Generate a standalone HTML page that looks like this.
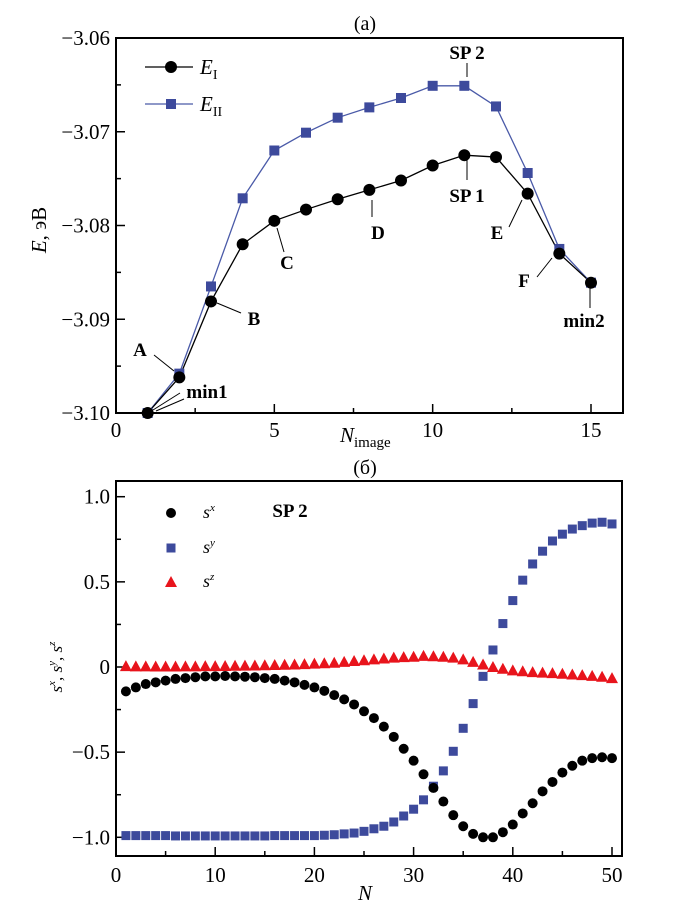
<!DOCTYPE html>
<html><head><meta charset="utf-8"><style>
body{margin:0;background:#fff;}
svg{display:block;font-family:"Liberation Serif",serif;}
</style></head><body>
<svg id="chart" width="680" height="912">
<g id="top"></g>
<g id="bot"></g>
</svg>
<script>
const imgN=[1,2,3,4,5,6,7,8,9,10,11,12,13,14,15];
const eI=[-3.1,-3.0962,-3.0881,-3.0820,-3.0795,-3.0783,-3.0772,-3.0762,-3.0752,-3.0736,-3.0725,-3.0727,-3.0766,-3.0830,-3.0861];
const eII=[-3.1,-3.0958,-3.0865,-3.0771,-3.0720,-3.0701,-3.0685,-3.0674,-3.0664,-3.0651,-3.0651,-3.0673,-3.0744,-3.0825,-3.0861];
const topXTicks=[0,5,10,15];
const topYTicks=[-3.10,-3.09,-3.08,-3.07,-3.06];
const topYLabels=["−3.10","−3.09","−3.08","−3.07","−3.06"];
const spinN=[];for(let i=1;i<=50;i++)spinN.push(i);
const sx=[-0.143,-0.12,-0.10,-0.09,-0.08,-0.07,-0.065,-0.06,-0.055,-0.055,-0.053,-0.055,-0.057,-0.06,-0.065,-0.07,-0.08,-0.09,-0.105,-0.12,-0.14,-0.165,-0.19,-0.22,-0.26,-0.30,-0.35,-0.41,-0.48,-0.55,-0.63,-0.71,-0.79,-0.87,-0.935,-0.98,-1.0,-1.0,-0.97,-0.925,-0.86,-0.80,-0.73,-0.675,-0.62,-0.58,-0.55,-0.535,-0.53,-0.535];
const sy=[-0.99,-0.99,-0.99,-0.99,-0.99,-0.992,-0.992,-0.992,-0.992,-0.992,-0.992,-0.992,-0.992,-0.992,-0.992,-0.99,-0.99,-0.99,-0.99,-0.99,-0.988,-0.985,-0.98,-0.975,-0.965,-0.95,-0.935,-0.91,-0.875,-0.835,-0.78,-0.70,-0.61,-0.495,-0.36,-0.215,-0.055,0.10,0.255,0.39,0.51,0.605,0.68,0.74,0.78,0.81,0.83,0.845,0.85,0.84];
const sz=[0.005,0.004,0.004,0.003,0.003,0.003,0.004,0.004,0.005,0.005,0.006,0.007,0.008,0.009,0.01,0.012,0.013,0.015,0.017,0.02,0.022,0.025,0.03,0.035,0.04,0.045,0.05,0.055,0.058,0.06,0.065,0.063,0.06,0.055,0.045,0.03,0.015,0.0,-0.01,-0.02,-0.025,-0.03,-0.033,-0.036,-0.04,-0.044,-0.048,-0.052,-0.057,-0.065];
const botXTicks=[0,10,20,30,40,50];
const botYTicks=[-1,-0.5,0,0.5,1];
const botYLabels=["−1.0","−0.5","0","0.5","1.0"];

const NS="http://www.w3.org/2000/svg";
function mk(parent,tag,attrs,text){const e=document.createElementNS(NS,tag);for(const k in attrs)e.setAttribute(k,attrs[k]);if(text!==undefined)e.textContent=text;parent.appendChild(e);return e;}

// ---- top chart ----
const T=document.getElementById('top');
const tx=v=>116+v*(591-116)/15;
const ty=v=>38+(-3.06-v)/0.04*(413-38);
let e;
e=mk(T,'rect',{x:116,y:38,width:507,height:375,fill:'none',stroke:'#000','stroke-width':2});


for(let v=0;v<=15;v+=2.5){e=mk(T,'line',{x1:tx(v),x2:tx(v),y1:413,y2:v%5===0?404:408,stroke:'#000','stroke-width':1.5});}
for(let v=-3.10;v<=-3.0599;v+=0.005){e=mk(T,'line',{x1:116,x2:Math.abs((v*1000)%10)<0.1||Math.abs(Math.abs((v*1000)%10)-10)<0.1?125:121,y1:ty(v),y2:ty(v),stroke:'#000','stroke-width':1.5});}
topXTicks.forEach(v=>{e=mk(T,'text',{x:tx(v),y:437,'font-size':21,'text-anchor':'middle'},String(v));});
topYTicks.forEach((v,i)=>{e=mk(T,'text',{x:110,y:ty(v)+7,'font-size':21,'text-anchor':'end'},topYLabels[i]);});
e=mk(T,'text',{x:365,y:30,'font-size':20,'text-anchor':'middle'},'(a)');
e=mk(T,'text',{x:0,y:0,'font-size':21,'text-anchor':'middle',transform:'translate(46,230) rotate(-90)'});
e.innerHTML='<tspan font-style="italic">E</tspan>, эВ';
e=mk(T,'text',{x:340,y:442,'font-size':21});
e.innerHTML='<tspan font-style="italic">N</tspan><tspan font-size="15" dy="5">image</tspan>';
function poly(par,xs,ys,fx,fy,col,name){const pts=xs.map((x,i)=>fx(x)+','+fy(ys[i])).join(' ');const p=mk(par,'polyline',{points:pts,fill:'none',stroke:col,'stroke-width':1.3});}
poly(T,imgN,eII,tx,ty,'#4a5aa8','line-e-ii');
poly(T,imgN,eI,tx,ty,'#000','line-e-i');
imgN.forEach((n,i)=>{e=mk(T,'rect',{x:tx(n)-5,y:ty(eII[i])-5,width:10,height:10,fill:'#3d4a9c'});});
imgN.forEach((n,i)=>{e=mk(T,'circle',{cx:tx(n),cy:ty(eI[i]),r:6,fill:'#000'});});
// legend
e=mk(T,'line',{x1:145,x2:193,y1:67,y2:67,stroke:'#000','stroke-width':1.3});
e=mk(T,'circle',{cx:171,cy:67,r:6,fill:'#000'});
e=mk(T,'text',{x:200,y:74,'font-size':21});
e.innerHTML='<tspan font-style="italic">E</tspan><tspan font-size="14" dy="5">I</tspan>';
e=mk(T,'line',{x1:145,x2:193,y1:104,y2:104,stroke:'#4a5aa8','stroke-width':1.3});
e=mk(T,'rect',{x:166,y:99,width:10,height:10,fill:'#3d4a9c'});
e=mk(T,'text',{x:200,y:111,'font-size':21});
e.innerHTML='<tspan font-style="italic">E</tspan><tspan font-size="14" dy="5">II</tspan>';
// annotations
const ann=[['SP 2',467,59,[[467,63,467,77]]],['SP 1',467,202,[[467,160,467,180]]],['D',378,239,[[372,200,372,217]]],['C',287,269,[[277,228,284,252]]],['B',254,325,[[217,303,241,313]]],['A',140,356,[[154,355,174,371]]],['min1',207,398,[[180,393,153,410],[184,399,156,411]]],['E',497,239,[[509,227,522,200]]],['F',524,287,[[537,277,552,258]]],['min2',584,327,[[590,287,590,308]]]];
ann.forEach(a=>{e=mk(T,'text',{x:a[1],y:a[2],'font-size':19,'font-weight':'bold','text-anchor':'middle'},a[0]);
a[3].forEach(l=>{e=mk(T,'line',{x1:l[0],y1:l[1],x2:l[2],y2:l[3],stroke:'#000','stroke-width':1});});});

// ---- bottom chart ----
const B=document.getElementById('bot');
const bx=v=>116+v*(612-116)/50;
const by=v=>667-v*170.3;
e=mk(B,'rect',{x:116,y:481,width:506,height:375,fill:'none',stroke:'#000','stroke-width':2});
for(let v=0;v<=50;v+=5){e=mk(B,'line',{x1:bx(v),x2:bx(v),y1:856,y2:v%10===0?847:851,stroke:'#000','stroke-width':1.5});}
for(let k=-4;k<=4;k++){const v=k*0.25;e=mk(B,'line',{x1:116,x2:k%2===0?125:121,y1:by(v),y2:by(v),stroke:'#000','stroke-width':1.5});}
botXTicks.forEach(v=>{e=mk(B,'text',{x:bx(v),y:882,'font-size':21,'text-anchor':'middle'},String(v));});
botYTicks.forEach((v,i)=>{e=mk(B,'text',{x:110,y:by(v)+7,'font-size':21,'text-anchor':'end'},botYLabels[i]);});
e=mk(B,'text',{x:365,y:474,'font-size':20,'text-anchor':'middle'},'(б)');
e=mk(B,'text',{x:365,y:900,'font-size':21,'font-style':'italic','text-anchor':'middle'},'N');
e=mk(B,'text',{x:0,y:0,'font-size':17,'font-style':'italic','text-anchor':'middle',transform:'translate(62,667) rotate(-90)'});
e.innerHTML='s<tspan font-size="11" dy="-7">x</tspan><tspan dy="7">, s</tspan><tspan font-size="11" dy="-7">y</tspan><tspan dy="7">, s</tspan><tspan font-size="11" dy="-7">z</tspan>';
function tri(x,y){return `${x},${y-6} ${x-6},${y+5} ${x+6},${y+5}`;}
spinN.forEach((n,i)=>{e=mk(B,'polygon',{points:tri(bx(n),by(sz[i])),fill:'#e8141c'});});
spinN.forEach((n,i)=>{e=mk(B,'rect',{x:bx(n)-4.5,y:by(sy[i])-4.5,width:9,height:9,fill:'#3d4a9c'});});
spinN.forEach((n,i)=>{e=mk(B,'circle',{cx:bx(n),cy:by(sx[i]),r:5,fill:'#000'});});
e=mk(B,'circle',{cx:171,cy:513,r:5,fill:'#000'});
e=mk(B,'rect',{x:166.5,y:543.5,width:9,height:9,fill:'#3d4a9c'});
e=mk(B,'polygon',{points:tri(171,582),fill:'#e8141c'});
[['x',513],['y',548],['z',582]].forEach(l=>{e=mk(B,'text',{x:203,y:l[1]+5,'font-size':18,'font-style':'italic'});e.innerHTML='s<tspan font-size="11" dy="-7">'+l[0]+'</tspan>';});
e=mk(B,'text',{x:290,y:517,'font-size':19,'font-weight':'bold','text-anchor':'middle'},'SP 2');
</script>
</body></html>
